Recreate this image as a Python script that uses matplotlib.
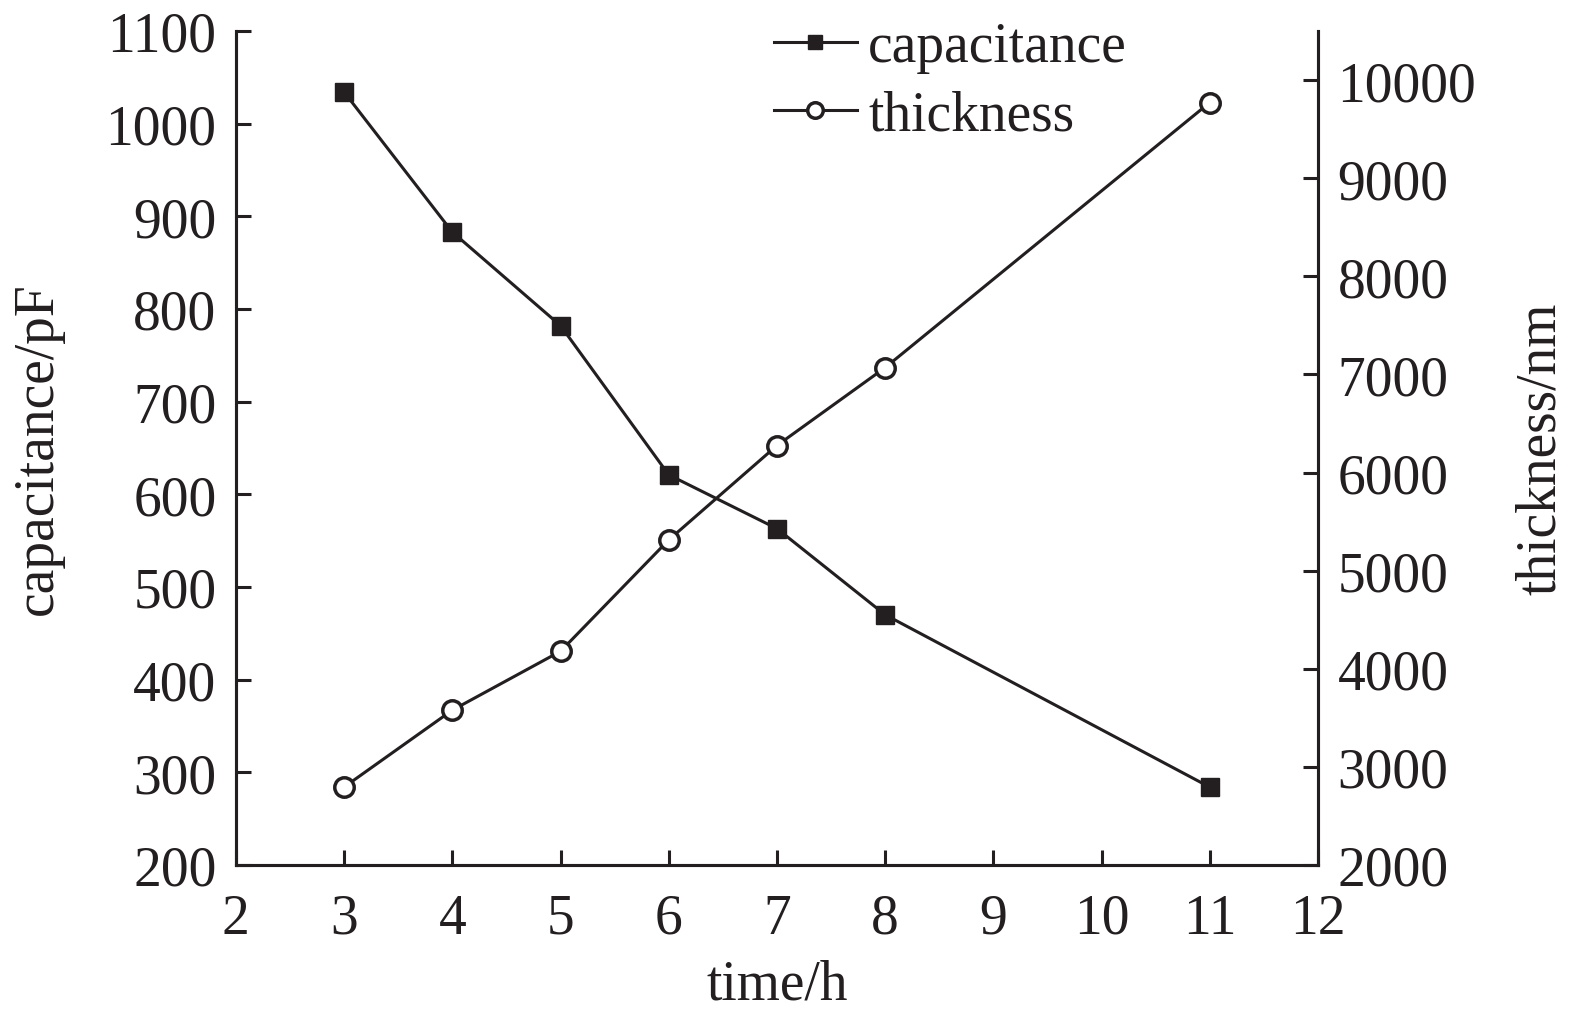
import matplotlib
matplotlib.use("Agg")
import matplotlib.pyplot as plt

plt.rcParams["font.family"] = ["Liberation Serif", "DejaVu Serif"]

time_h = [3, 4, 5, 6, 7, 8, 11]
capacitance = [1034, 883, 782, 621, 563, 470, 284]
thickness = [2794, 3578, 4178, 5313, 6275, 7069, 9771]

FS = 40
LW = 2.2

fig = plt.figure(figsize=(15.75, 10.12), dpi=100)
ax = fig.add_axes([0.1498, 0.1443, 0.687, 0.8241])
ax2 = ax.twinx()

l1, = ax.plot(time_h, capacitance, color="#231f20", lw=LW, marker="s",
              ms=13, mfc="#231f20", mec="#231f20", label="capacitance")
l2, = ax2.plot(time_h, thickness, color="#231f20", lw=LW, marker="o",
               ms=14, mfc="white", mec="#231f20", mew=2.5, label="thickness")

ax.set_xlim(2, 12)
ax.set_ylim(200, 1100)
ax2.set_ylim(2000, 10500)
ax.set_xticks(range(2, 13))
ax.set_yticks(range(200, 1101, 100))
ax2.set_yticks(range(2000, 10001, 1000))

for a in (ax, ax2):
    a.spines["top"].set_visible(False)
    for s in a.spines.values():
        s.set_linewidth(LW)
        s.set_color("#231f20")
    a.tick_params(direction="in", length=11, width=LW, labelsize=FS,
                  color="#231f20", labelcolor="#231f20", pad=14)
ax.tick_params(axis="x", pad=20)

ax.set_xlabel("time/h", fontsize=FS, color="#231f20", labelpad=10)
ax.set_ylabel("capacitance/pF", fontsize=FS, color="#231f20", labelpad=30)
ax2.set_ylabel("thickness/nm", fontsize=FS, color="#231f20", labelpad=28)

leg = ax.legend([l1, l2], ["capacitance", "thickness"], loc="upper left",
                bbox_to_anchor=(0.497, 1.012), frameon=False, fontsize=FS,
                handlelength=1.5, handletextpad=0.2, labelspacing=0.3,
                markerscale=0.8, borderpad=0, borderaxespad=0)
for t in leg.get_texts():
    t.set_color("#231f20")

fig.savefig("out.png", dpi=100)
